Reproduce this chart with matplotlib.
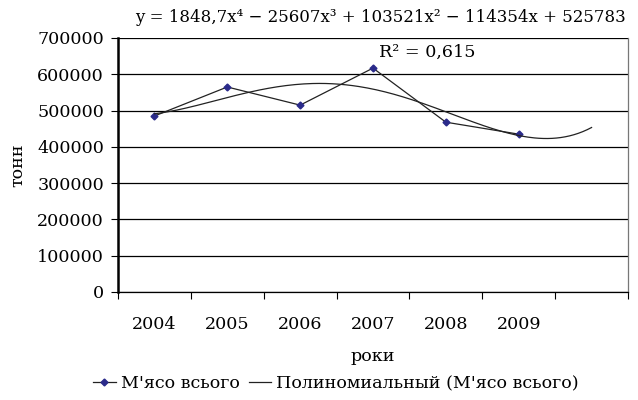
import numpy as np
import matplotlib
matplotlib.use("Agg")
import matplotlib.pyplot as plt

years = ["2004", "2005", "2006", "2007", "2008", "2009"]
meat = [485000, 565000, 515000, 617000, 468000, 435000]
# coefficients of the trend line as printed on the chart (x4 .. x0)
trend_coef = [1848.7, -25607, 103521, -114354, 525783]
y_ticks = [0, 100000, 200000, 300000, 400000, 500000, 600000, 700000]

plt.rcParams['font.family'] = ['DejaVu Serif']

fig = plt.figure(figsize=(6.38, 4.0), dpi=100)
ax = fig.add_axes([118/638, 108/400, 510/638, 254/400])

x = np.arange(1, len(years) + 1)
xt = np.linspace(1, len(years) + 1, 200)
yt = np.polyval(trend_coef, xt)

ax.plot(x, meat, color='#222222', lw=0.9, marker='D', ms=3.5,
        mfc='#2a2a8a', mec='#2a2a8a', label="М'ясо всього")
ax.plot(xt, yt, color='#222222', lw=0.9, label="Полиномиальный (М'ясо всього)")

ax.set_xlim(0.5, len(years) + 1.5)
ax.set_ylim(0, 700000)
ax.set_yticks(y_ticks)
ax.set_yticklabels([str(v) for v in y_ticks], fontsize=12.6)
ax.yaxis.grid(True, color='black', lw=0.9)
ax.set_axisbelow(True)

ax.set_xticks(np.arange(0.5, len(years) + 2, 1))
ax.set_xticklabels([])
ax.set_xticks(x, minor=True)
ax.set_xticklabels(years, minor=True, fontsize=12.6)
ax.tick_params(axis='x', which='minor', length=0, pad=17)
ax.tick_params(axis='x', which='major', length=5, direction='out')
ax.tick_params(axis='y', length=5, direction='out', pad=5)

ax.spines['left'].set_linewidth(1.8)
ax.spines['bottom'].set_linewidth(0.9)
ax.spines['top'].set_visible(False)
ax.spines['right'].set_color('#777777')
ax.spines['right'].set_linewidth(0.9)

ax.set_ylabel('тонн', fontsize=12.6, labelpad=8)
ax.set_xlabel('роки', fontsize=12.6, labelpad=11)

fig.text(0.597, 0.955, "y = 1848,7x⁴ − 25607x³ + 103521x² − 114354x + 525783",
         ha='center', va='center', fontsize=12.0)
fig.text(0.67, 0.87, "R² = 0,615", ha='center', va='center', fontsize=12.6)

ax.legend(loc='upper center', bbox_to_anchor=(336/638, 32/400),
          bbox_transform=fig.transFigure, ncol=2, frameon=False,
          fontsize=12.6, handlelength=1.3, handletextpad=0.3, columnspacing=0.5,
          borderaxespad=0)

fig.savefig('out.png', dpi=100)
